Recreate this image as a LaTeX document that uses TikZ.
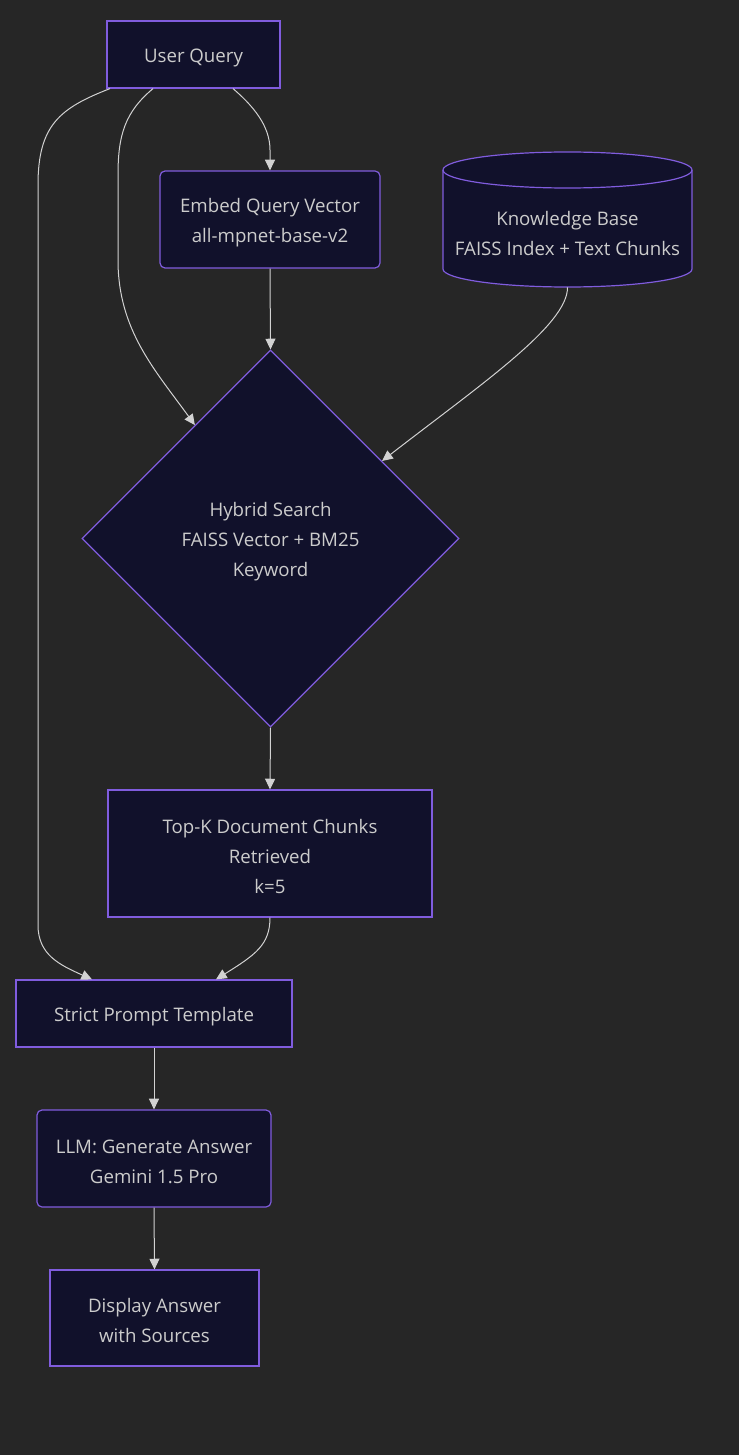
\documentclass[tikz,border=0pt]{standalone}
\usepackage{fontspec}
\setmainfont{Open Sans}
\usetikzlibrary{shapes.geometric,arrows.meta,calc}
\definecolor{bg}{RGB}{38,38,38}
\definecolor{nodefill}{RGB}{17,17,43}
\definecolor{nodeborder}{RGB}{128,92,222}
\definecolor{txt}{RGB}{204,204,204}
\definecolor{edgecol}{RGB}{210,210,210}
\newcommand{\tstrut}{\rule{0pt}{15pt}}
\begin{document}
\begin{tikzpicture}[x=0.75pt,y=-0.75pt,
  lbl/.style={text=txt, font=\fontsize{14}{22.5}\selectfont, align=center, inner sep=0pt},
  box/.style={lbl, draw=nodeborder, fill=nodefill, line width=0.9pt},
  rbox/.style={box, rounded corners=3.75pt},
  conn/.style={draw=edgecol, line width=0.75pt, -{Triangle[length=8pt,width=7.5pt]}}]
\fill[bg] (0,0) rectangle (739,1455);
\useasboundingbox (0,0) rectangle (739,1455);

\node[box, minimum width=129.75pt, minimum height=50.25pt] (uq) at (193.5,54.5) {\tstrut User Query};
\node[rbox, minimum width=165pt, minimum height=72.75pt] (emb) at (270,219.5) {\tstrut Embed Query Vector\\all-mpnet-base-v2};
% cylinder
\node[minimum width=186.75pt, minimum height=101.25pt, inner sep=0pt] (kbs) at (567.5,219.5) {};
\draw[draw=nodeborder, fill=nodefill, line width=0.9pt]
  (443,170) -- (443,269) arc[start angle=180, end angle=0, x radius=124.5, y radius=18]
  -- (692,170) arc[start angle=0, end angle=-180, x radius=124.5, y radius=18] -- cycle;
\draw[draw=nodeborder, line width=0.9pt] (443,170) arc[start angle=180, end angle=0, x radius=124.5, y radius=18];
\node[lbl] (kb) at (567.5,231) {\tstrut Knowledge Base\\FAISS Index + Text Chunks};

\node[box, diamond, aspect=1, minimum width=282.75pt, minimum height=282.75pt] (dia) at (270.5,538.5) {\tstrut Hybrid Search\\FAISS Vector + BM25\\Keyword};
\node[box, minimum width=243pt, minimum height=95.25pt] (topk) at (270,853.5) {\tstrut Top-K Document Chunks\\Retrieved\\k=5};
\node[box, minimum width=207pt, minimum height=50.25pt] (sp) at (154,1013.5) {\tstrut Strict Prompt Template};
\node[rbox, minimum width=175.5pt, minimum height=72.75pt] (llm) at (154,1158.5) {\tstrut LLM: Generate Answer\\Gemini 1.5 Pro};
\node[box, minimum width=156.75pt, minimum height=72pt] (disp) at (154.5,1318) {\tstrut Display Answer\\with Sources};

% connectors
\draw[conn] ($(uq.south)+(39.5,0)$) .. controls (252,105) and (270,125) .. (270,150) -- (emb.north);
\draw[conn] ($(uq.south)+(-40.5,0)$) .. controls (125,112) and (118,135) .. (118,175) -- (118,260)
  .. controls (118,330) and (155,370) .. ($(dia.north)!0.4!(dia.west)$);
\draw[conn] ($(uq.south)+(-83.5,0)$) .. controls (60,108) and (38,125) .. (38,185) -- (38,925)
  .. controls (38,955) and (60,965) .. ($(sp.north)+(-62,0)$);
\draw[conn] (emb.south) -- (dia.north);
\draw[conn] (kbs.south) .. controls (568,325) and (480,385) .. ($(dia.north)!0.59!(dia.east)$);
\draw[conn] (dia.south) -- (topk.north);
\draw[conn] (topk.south) .. controls (270,945) and (255,955) .. ($(sp.north)+(62,0)$);
\draw[conn] (sp.south) -- (llm.north);
\draw[conn] (llm.south) -- (disp.north);
\end{tikzpicture}
\end{document}
